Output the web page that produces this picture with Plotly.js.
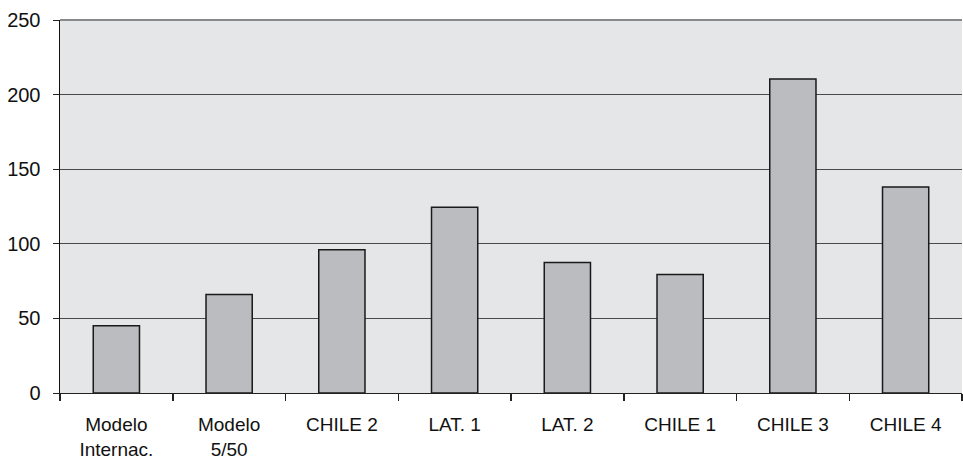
<!DOCTYPE html>
<html>
<head>
<meta charset="utf-8">
<script src="https://cdn.plot.ly/plotly-3.0.1.min.js"></script>
<style>html,body{margin:0;padding:0;background:#fff;}#chart{width:963px;height:464px;}</style>
</head>
<body>
<div id="chart"></div>
<script>
const categories = ["Modelo<br>Internac.", "Modelo<br>5/50", "CHILE 2", "LAT. 1", "LAT. 2", "CHILE 1", "CHILE 3", "CHILE 4"];
const values = [45, 66, 96, 124.5, 87.5, 79.5, 210.5, 138];
const yTicks = [0, 50, 100, 150, 200, 250];

const trace = {
  type: 'bar',
  x: categories,
  y: values,
  marker: { color: '#bbbcc0', line: { color: '#1a1a1a', width: 1.5 } },
  hoverinfo: 'x+y'
};

const layout = {
  width: 963, height: 464,
  margin: { l: 60, r: 1, t: 20, b: 71, pad: 0 },
  paper_bgcolor: '#ffffff',
  plot_bgcolor: '#e5e6e8',
  bargap: 0.59,
  showlegend: false,
  font: { family: 'Liberation Sans, Arial, sans-serif', size: 18, color: '#111' },
  xaxis: {
    type: 'category',
    showgrid: false,
    showline: true, linecolor: '#222', linewidth: 1,
    ticks: 'outside', tickson: 'boundaries', ticklen: 7, tickcolor: '#222', tickwidth: 1.5,
    tickfont: { size: 19 },
    ticklabelstandoff: 14,
    fixedrange: true
  },
  yaxis: {
    range: [0, 250],
    tickvals: yTicks,
    ticktext: yTicks.map(String),
    showgrid: true, gridcolor: '#4a4a4a', gridwidth: 1,
    zeroline: false,
    showline: true, linecolor: '#111', linewidth: 1.5,
    ticks: 'outside', ticklen: 6, tickcolor: '#222', tickwidth: 1,
    tickfont: { size: 20 },
    ticklabelstandoff: 8,
    fixedrange: true
  },
  shapes: [
    { type: 'line', xref: 'paper', yref: 'paper', x0: 0, x1: 1, y0: 1, y1: 1, line: { color: '#8a8a8a', width: 2 } }
  ]
};

Plotly.newPlot('chart', [trace], layout, { displayModeBar: false, staticPlot: true });
</script>
</body>
</html>
